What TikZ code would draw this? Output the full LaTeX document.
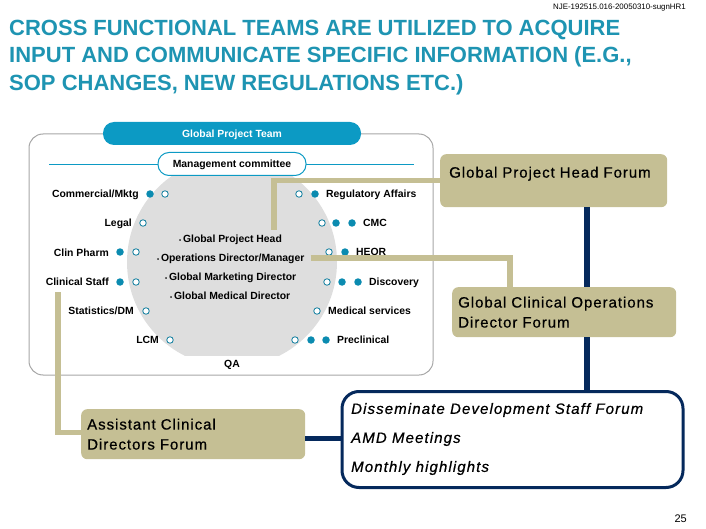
\documentclass[tikz,border=0pt]{standalone}
\usepackage{fontspec}
\setmainfont{Liberation Sans}
\newfontfamily\forumfont[LetterSpace=6.4,FakeBold=0.55]{Liberation Sans}
\newfontfamily\dsffont[LetterSpace=7.4,FakeBold=0.55]{Liberation Sans}
\definecolor{teamblue}{HTML}{0C9AC4}
\definecolor{titleblue}{HTML}{1E94B2}
\definecolor{forumtan}{HTML}{C5BF94}
\definecolor{navyline}{HTML}{05295C}
\newcommand{\bul}{{\fontsize{6}{6}\selectfont •}\,}
\tikzset{
lbl/.style={font=\fontsize{10.4}{12}\selectfont\bfseries,inner sep=0pt,text height=7.5pt,text depth=0pt},
opendot/.style={circle,draw=teamblue!80!black,fill=white,line width=0.8pt,minimum size=6.5pt,inner sep=0pt},
fulldot/.style={circle,fill=teamblue!90!black,minimum size=7.5pt,inner sep=0pt},
forum/.style={fill=forumtan,rounded corners=6pt,align=left,anchor=north west,font=\forumfont\fontsize{15}{20}\selectfont,inner sep=0pt},
tanline/.style={forumtan,line width=5.3pt},
navy/.style={navyline,line width=5.3pt}
}
\begin{document}
\begin{tikzpicture}[x=1pt,y=-1pt]
\useasboundingbox (0,0) rectangle (706,529);
\node[anchor=east,inner sep=0pt,font=\fontsize{7.9}{9}\selectfont] (jobcode) at (686,8) {NJE-192515.016-20050310-sugnHR1};
\node[anchor=west,inner sep=0pt,align=left,text=titleblue,font=\fontsize{22}{27.2}\selectfont\bfseries] (title) at (9,57.5) {\makebox[611pt][s]{CROSS FUNCTIONAL TEAMS ARE UTILIZED TO ACQUIRE}\\INPUT AND COMMUNICATE SPECIFIC INFORMATION (E.G.,\\SOP CHANGES, NEW REGULATIONS ETC.)};
% team panel
\draw[black!35,line width=1pt,rounded corners=14pt](29,134)rectangle(433,375);
\begin{scope}
\clip(100,150)rectangle(360,355);
\fill[black!13](232,262)circle(105);
\end{scope}
\draw[teamblue,line width=0.7pt](49,164)--(414,164);
\node[lbl,fill=teamblue,text=white,rounded corners=11pt,minimum width=258pt,minimum height=23pt] (team) at (232,133.5) {Global Project Team};
\node[lbl,fill=white,draw=teamblue,line width=1pt,rounded corners=11pt,minimum width=148pt,minimum height=23pt] (mgmt) at (232,164) {Management committee};
% labels left
\foreach \x/\y/\t [count=\i] in {139/194/{Commercial/Mktg},132/223/Legal,109/252.5/Clin Pharm,109/282/Clinical Staff,134/311/{Statistics/DM},159/340/LCM}
{\node[lbl,anchor=east] (left\i) at (\x,\y) {\t};}
% labels right
\foreach \x/\y/\t [count=\i] in {326/194/Regulatory Affairs,363/223/CMC,356/252/HEOR,369/282/Discovery,328/311/Medical services,337/340/Preclinical}
{\node[lbl,anchor=west] (right\i) at (\x,\y) {\t};}
\node[lbl] (qa) at (232,364) {QA};
% open and full dots
\foreach \x/\y [count=\i] in {165/194,143/223,136/252,136/282,146/311,170/340,299/194,322/223,329/252,327/282,317/311,295/340}
{\node[opendot] (open\i) at (\x,\y) {};}
\foreach \x/\y [count=\i] in {150/194,120/252,120/282,315/194,336/223,352/223,345/252,342/282,358/282,311/340,326/340}
{\node[fulldot] (full\i) at (\x,\y) {};}
% roles
\node[lbl,anchor=west] (projhead) at (179,239) {\bul Global Project Head};
\node[lbl,anchor=west] (opsdir) at (157,258) {\bul Operations Director/Manager};
\node[lbl,anchor=west] (mktdir) at (165,277) {\bul Global Marketing Director};
\node[lbl,anchor=west] (meddir) at (170,296) {\bul Global Medical Director};
% forums
\node[forum,text width=227pt,minimum height=53pt] (gph) at (440,154) {\hspace*{9pt}Global Project Head Forum\\[-3pt]\mbox{}};
\node[forum,text width=224pt,minimum height=50pt] (clin) at (452,287) {\hspace*{6pt}Global Clinical Operations\\\hspace*{6pt}Director Forum};
\node[forum,text width=224pt,minimum height=50pt] (acd) at (81,409) {\hspace*{6pt}Assistant Clinical\\\hspace*{6pt}Directors Forum};
\node[draw=navyline,fill=white,line width=3pt,rounded corners=17pt,minimum width=341pt,minimum height=96pt,inner sep=0pt,anchor=north west] (dsf) at (340.5,390) {};
\node[anchor=west,align=left,inner sep=0pt,font=\dsffont\fontsize{15}{29}\selectfont\itshape] (dsftext) at (351,439) {Disseminate Development Staff Forum\\AMD Meetings\\Monthly highlights};
% connectors
\coordinate (headpt) at (274,230);
\coordinate (clinpt) at (510,287);
\coordinate (staffpt) at (58,292);
\coordinate (navytop) at (587,207);
\draw[tanline](gph.west)-|(headpt);
\draw[tanline]([xshift=6pt]opsdir.east)-|(clinpt);
\draw[tanline]([yshift=2pt]acd.west)-|(staffpt);
\draw[navy](navytop)--(navytop|-clin.north);
\draw[navy](navytop|-clin.south)--(navytop|-dsf.north);
\draw[navy]([yshift=-4pt]acd.east)--([yshift=-4pt]acd.east-|dsf.west);
\node[anchor=east,inner sep=0pt,font=\fontsize{11}{13}\selectfont] (pagenum) at (687,519) {25};
\end{tikzpicture}
\end{document}
